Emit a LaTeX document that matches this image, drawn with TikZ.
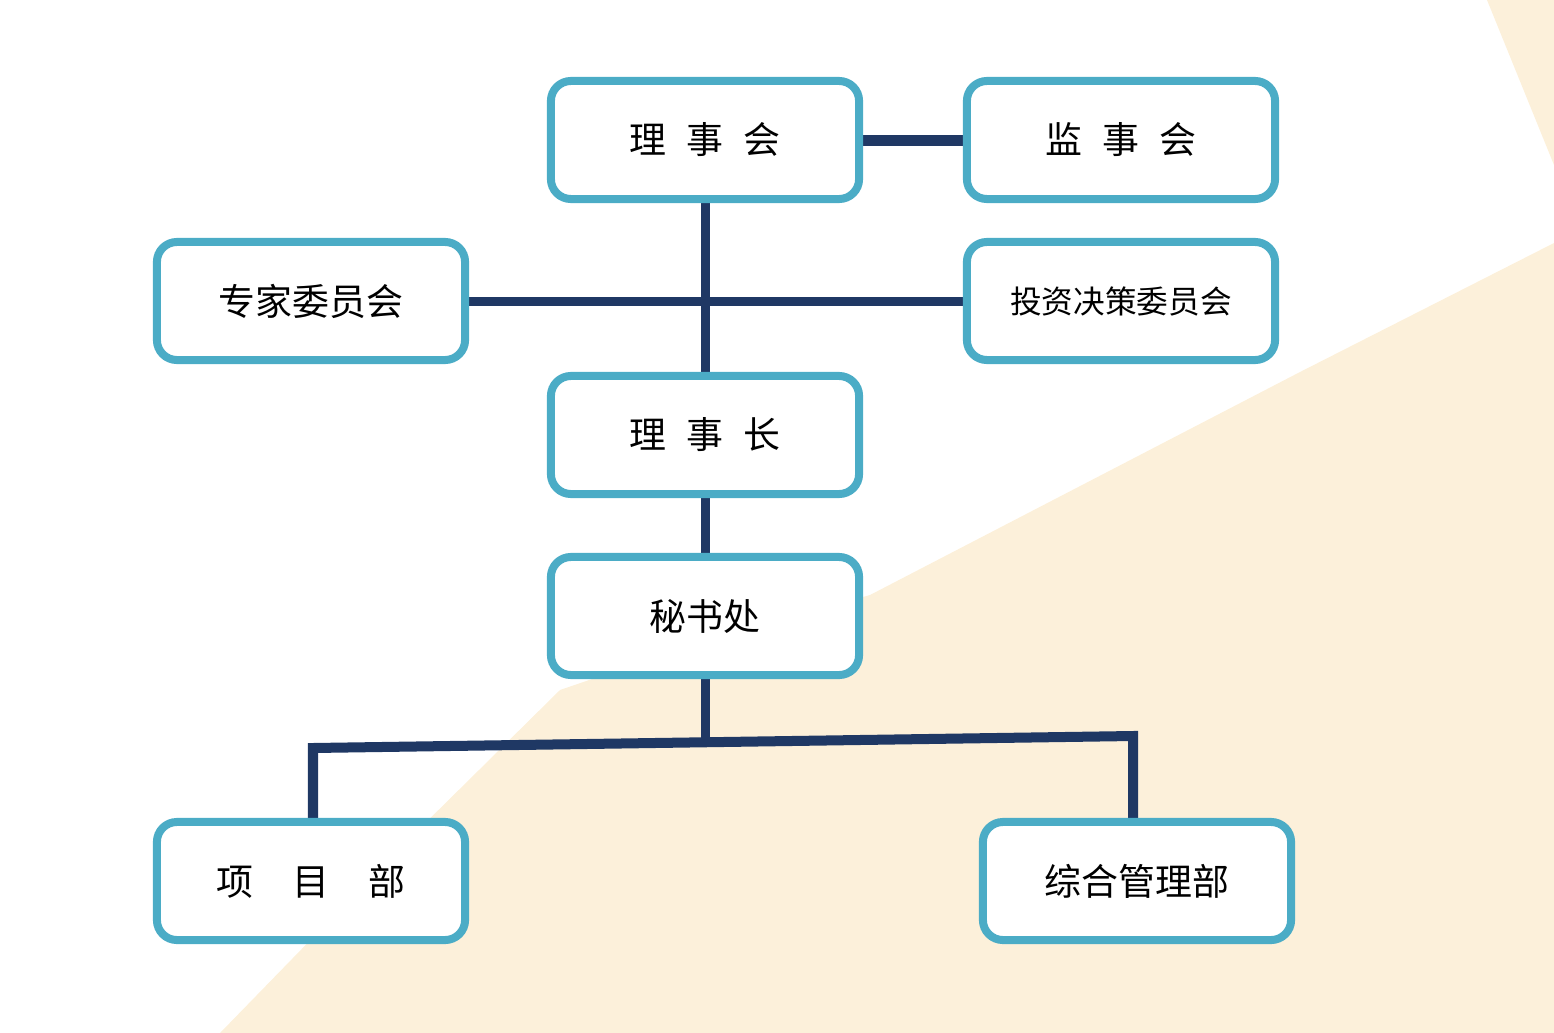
\documentclass[tikz,border=0pt]{standalone}
\usepackage{fontspec}
\newfontfamily\cjk{Noto Sans CJK SC}
\usetikzlibrary{backgrounds}
\definecolor{boxLine}{HTML}{4BACC6}
\definecolor{linkNavy}{HTML}{1F3864}
\definecolor{paperCream}{HTML}{FCF0DA}

\begin{document}
\begin{tikzpicture}[
  x=0.01cm, y=-0.01cm,
  font=\cjk\fontsize{10.5}{12}\selectfont,
  orgbox/.style={rectangle, rounded corners=0.2cm, draw=boxLine, fill=white,
                 line width=0.08cm, align=center, inner sep=2pt,
                 minimum width=3.08cm, minimum height=1.18cm},
  link/.style={draw=linkNavy, line width=0.09cm, line join=miter}
]
\useasboundingbox (0,0) rectangle (1554,1033);

% ===== Boxes =========================================================
\node[orgbox] (lsh) at (705,140) {理\hspace{0.55em}事\hspace{0.55em}会};
\node[orgbox] (jsh) at (1121,140) {监\hspace{0.55em}事\hspace{0.55em}会};
\node[orgbox] (zjw) at (311,301) {专家委员会};
\node[orgbox] (tzw) at (1121,301)
  {\fontsize{9}{11}\selectfont 投资决策委员会};
\node[orgbox] (lsz) at (705,435) {理\hspace{0.55em}事\hspace{0.55em}长};
\node[orgbox] (msc) at (705,616) {秘书处};
\node[orgbox] (xmb) at (311,881) {项\hspace{1.05em}目\hspace{1.05em}部};
\node[orgbox] (zhb) at (1137,881) {综合管理部};

% ===== Connectors ====================================================
\coordinate (barL) at (313,748);
\coordinate (barM) at (705,742);
\coordinate (barR) at (1133,736);

\begin{scope}[on background layer]
  % cream backdrop
  \fill[paperCream] (220,1033) -- (400,848) -- (560,690) -- (700,642)
    -- (870,595) -- (1300,372) -- (1554,243) -- (1554,1033) -- cycle;
  \fill[paperCream] (1487,0) -- (1554,0) -- (1554,165) -- cycle;

  \draw[link, line width=0.11cm] (lsh.east) -- (jsh.west);
  \draw[link] (lsh.south) -- (lsz.north);
  \draw[link] (zjw.east) -- (tzw.west);
  \draw[link] (lsz.south) -- (msc.north);
  \draw[link] (msc.south) -- (barM);
  \draw[link, line width=0.1cm] (xmb.north -| barL) -- (barL) -- (barR)
    -- (zhb.north -| barR);
\end{scope}

\end{tikzpicture}
\end{document}
